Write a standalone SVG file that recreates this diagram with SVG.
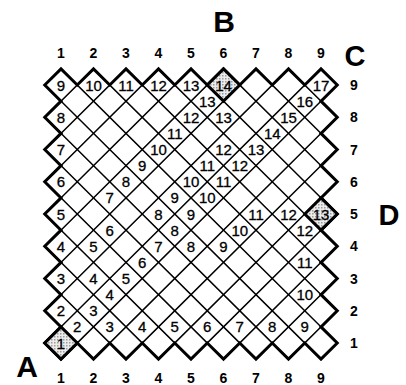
<svg xmlns="http://www.w3.org/2000/svg" width="406" height="385" viewBox="0 0 406 385">
<defs>
<style>
.thin{fill:none;stroke:#000;stroke-width:1.5;vector-effect:non-scaling-stroke}
.bold{fill:none;stroke:#000;stroke-width:3;stroke-linejoin:miter;vector-effect:non-scaling-stroke}
.shade{fill:url(#stip);stroke:#000;stroke-width:3}
.n{font-family:"Liberation Sans",Arial,sans-serif;font-size:15px;text-anchor:middle;fill:#000;stroke:#000;stroke-width:0.3}
.ax{font-family:"Liberation Sans",Arial,sans-serif;font-size:14px;font-weight:bold;text-anchor:middle;fill:#000}
.big{font-family:"Liberation Sans",Arial,sans-serif;font-weight:bold;text-anchor:middle;fill:#000}
</style>
<pattern id="stip" width="3" height="3" patternUnits="userSpaceOnUse"><rect width="3" height="3" fill="#ececec"/><rect width="1.5" height="1.5" fill="#9a9a9a"/></pattern>
<clipPath id="region"><polygon points="0.5,9 1,9.5 1.5,9 2,9.5 2.5,9 3,9.5 3.5,9 4,9.5 4.5,9 5,9.5 5.5,9 6,9.5 6.5,9 7,9.5 7.5,9 8,9.5 8.5,9 9,9.5 9.5,9 9,8.5 9.5,8 9,7.5 9.5,7 9,6.5 9.5,6 9,5.5 9.5,5 9,4.5 9.5,4 9,3.5 9.5,3 9,2.5 9.5,2 9,1.5 9.5,1 9,0.5 8.5,1 8,0.5 7.5,1 7,0.5 6.5,1 6,0.5 5.5,1 5,0.5 4.5,1 4,0.5 3.5,1 3,0.5 2.5,1 2,0.5 1.5,1 1,0.5 0.5,1 1,1.5 0.5,2 1,2.5 0.5,3 1,3.5 0.5,4 1,4.5 0.5,5 1,5.5 0.5,6 1,6.5 0.5,7 1,7.5 0.5,8 1,8.5"/></clipPath>
</defs>
<rect width="406" height="385" fill="#fff"/>
<g id="grid" transform="matrix(32.5 0 0 -32.25 28.5 375.25)">
<g id="connectors" clip-path="url(#region)">
<path class="thin" d="M-8 0.5L1 9.5M-7 0.5L2 9.5M-6 0.5L3 9.5M-5 0.5L4 9.5M-4 0.5L5 9.5M-3 0.5L6 9.5M-2 0.5L7 9.5M-1 0.5L8 9.5M0 0.5L9 9.5M1 0.5L10 9.5M2 0.5L11 9.5M3 0.5L12 9.5M4 0.5L13 9.5M5 0.5L14 9.5M6 0.5L15 9.5M7 0.5L16 9.5M8 0.5L17 9.5M9 0.5L18 9.5"/>
<path class="thin" d="M1 0.5L-8 9.5M2 0.5L-7 9.5M3 0.5L-6 9.5M4 0.5L-5 9.5M5 0.5L-4 9.5M6 0.5L-3 9.5M7 0.5L-2 9.5M8 0.5L-1 9.5M9 0.5L0 9.5M10 0.5L1 9.5M11 0.5L2 9.5M12 0.5L3 9.5M13 0.5L4 9.5M14 0.5L5 9.5M15 0.5L6 9.5M16 0.5L7 9.5M17 0.5L8 9.5M18 0.5L9 9.5"/>
</g>
<polygon id="boundary" class="bold" points="0.5,9 1,9.5 1.5,9 2,9.5 2.5,9 3,9.5 3.5,9 4,9.5 4.5,9 5,9.5 5.5,9 6,9.5 6.5,9 7,9.5 7.5,9 8,9.5 8.5,9 9,9.5 9.5,9 9,8.5 9.5,8 9,7.5 9.5,7 9,6.5 9.5,6 9,5.5 9.5,5 9,4.5 9.5,4 9,3.5 9.5,3 9,2.5 9.5,2 9,1.5 9.5,1 9,0.5 8.5,1 8,0.5 7.5,1 7,0.5 6.5,1 6,0.5 5.5,1 5,0.5 4.5,1 4,0.5 3.5,1 3,0.5 2.5,1 2,0.5 1.5,1 1,0.5 0.5,1 1,1.5 0.5,2 1,2.5 0.5,3 1,3.5 0.5,4 1,4.5 0.5,5 1,5.5 0.5,6 1,6.5 0.5,7 1,7.5 0.5,8 1,8.5"/>
</g>
<g id="shaded">
<polygon id="cellA" class="shade" points="44.75,343 61,326.875 77.25,343 61,359.125"/>
<polygon id="cellB" class="shade" points="207.25,85 223.5,68.875 239.75,85 223.5,101.125"/>
<polygon id="cellD" class="shade" points="304.75,214 321,197.875 337.25,214 321,230.125"/>
</g>
<g id="cell-numbers" class="n">
<text x="61" y="90.5">9</text><text x="93.5" y="90.5">10</text><text x="126" y="90.5">11</text><text x="158.5" y="90.5">12</text><text x="191" y="90.5">13</text><text x="223.5" y="90.5">14</text><text x="321" y="90.5">17</text>
<text x="207.25" y="106.6">13</text><text x="304.75" y="106.6">16</text>
<text x="61" y="122.8">8</text><text x="191" y="122.8">12</text><text x="223.5" y="122.8">13</text><text x="288.5" y="122.8">15</text>
<text x="174.75" y="138.9">11</text><text x="272.25" y="138.9">14</text>
<text x="61" y="155">7</text><text x="158.5" y="155">10</text><text x="223.5" y="155">12</text><text x="256" y="155">13</text>
<text x="142.25" y="171.1">9</text><text x="207.25" y="171.1">11</text><text x="239.75" y="171.1">12</text>
<text x="61" y="187.3">6</text><text x="126" y="187.3">8</text><text x="191" y="187.3">10</text><text x="223.5" y="187.3">11</text>
<text x="109.75" y="203.4">7</text><text x="174.75" y="203.4">9</text><text x="207.25" y="203.4">10</text>
<text x="61" y="219.5">5</text><text x="158.5" y="219.5">8</text><text x="191" y="219.5">9</text><text x="256" y="219.5">11</text><text x="288.5" y="219.5">12</text><text x="321" y="219.5">13</text>
<text x="109.75" y="235.6">6</text><text x="174.75" y="235.6">8</text><text x="239.75" y="235.6">10</text><text x="304.75" y="235.6">12</text>
<text x="61" y="251.8">4</text><text x="93.5" y="251.8">5</text><text x="158.5" y="251.8">7</text><text x="191" y="251.8">8</text><text x="223.5" y="251.8">9</text>
<text x="142.25" y="267.9">6</text><text x="304.75" y="267.9">11</text>
<text x="61" y="284">3</text><text x="93.5" y="284">4</text><text x="126" y="284">5</text>
<text x="109.75" y="300.1">4</text><text x="304.75" y="300.1">10</text>
<text x="61" y="316.3">2</text><text x="93.5" y="316.3">3</text>
<text x="77.25" y="332.4">2</text><text x="109.75" y="332.4">3</text><text x="142.25" y="332.4">4</text><text x="174.75" y="332.4">5</text><text x="207.25" y="332.4">6</text><text x="239.75" y="332.4">7</text><text x="272.25" y="332.4">8</text><text x="304.75" y="332.4">9</text>
<text x="61" y="348.5">1</text>
</g>
<g id="axis-top" class="ax">
<text x="61" y="58">1</text><text x="93.5" y="58">2</text><text x="126" y="58">3</text><text x="158.5" y="58">4</text><text x="191" y="58">5</text><text x="223.5" y="58">6</text><text x="256" y="58">7</text><text x="288.5" y="58">8</text><text x="321" y="58">9</text>
</g>
<g id="axis-bottom" class="ax">
<text x="61" y="383">1</text><text x="93.5" y="383">2</text><text x="126" y="383">3</text><text x="158.5" y="383">4</text><text x="191" y="383">5</text><text x="223.5" y="383">6</text><text x="256" y="383">7</text><text x="288.5" y="383">8</text><text x="321" y="383">9</text>
</g>
<g id="axis-right" class="ax">
<text x="354" y="90">9</text><text x="354" y="122.3">8</text><text x="354" y="154.5">7</text><text x="354" y="186.8">6</text><text x="354" y="219">5</text><text x="354" y="251.3">4</text><text x="354" y="283.5">3</text><text x="354" y="315.8">2</text><text x="354" y="348">1</text>
</g>
<g id="corner-labels" class="big">
<text id="labelB" x="224" y="32" font-size="30">B</text>
<text id="labelC" x="355" y="66" font-size="29">C</text>
<text id="labelD" x="389" y="225" font-size="29">D</text>
<text id="labelA" x="27" y="377" font-size="30">A</text>
</g>
</svg>
